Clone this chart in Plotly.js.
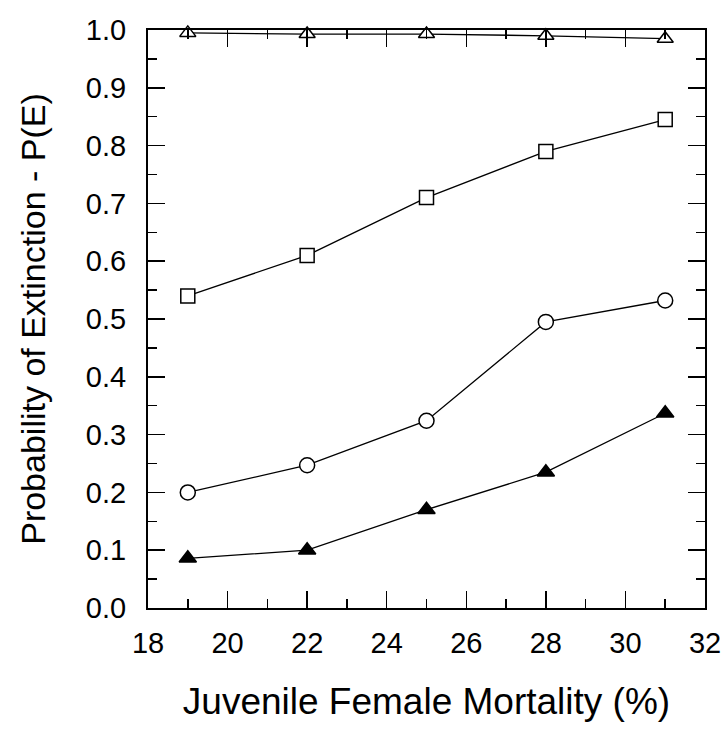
<!DOCTYPE html>
<html>
<head>
<meta charset="utf-8">
<script src="https://cdn.plot.ly/plotly-3.0.1.min.js"></script>
<style>
  html, body { margin: 0; padding: 0; background: #ffffff; }
  #chart { width: 726px; height: 740px; }
</style>
</head>
<body>
<div id="chart"></div>
<script>
// Juvenile female mortality (%)
var mortality = [19, 22, 25, 28, 31];
// Probability of extinction P(E) for each series
var peOpenTriangle = [0.995, 0.993, 0.993, 0.99, 0.985];
var peSquare = [0.54, 0.61, 0.71, 0.79, 0.845];
var peCircle = [0.20, 0.247, 0.324, 0.495, 0.532];
var peFilledTriangle = [0.086, 0.10, 0.17, 0.235, 0.337];

var xTickVals = [18, 20, 22, 24, 26, 28, 30, 32];
var yTickVals = [0.0, 0.1, 0.2, 0.3, 0.4, 0.5, 0.6, 0.7, 0.8, 0.9, 1.0];

function series(y, symbol, fill, size) {
  return {
    x: mortality, y: y, type: 'scatter', mode: 'lines+markers',
    cliponaxis: false,
    line: { color: '#000000', width: 1.3 },
    marker: { symbol: symbol, size: size, color: fill, line: { color: '#000000', width: 1.5 } },
    showlegend: false, hoverinfo: 'skip'
  };
}

var data = [
  series(peOpenTriangle, 'triangle-up', '#ffffff', 14),
  series(peSquare, 'square', '#ffffff', 14),
  series(peCircle, 'circle', '#ffffff', 15),
  series(peFilledTriangle, 'triangle-up', '#000000', 15)
];

var tickFont = { family: 'Liberation Sans, Arial, sans-serif', size: 29, color: '#000000' };
var yTitleFont = { family: 'Liberation Sans, Arial, sans-serif', size: 34, color: '#000000' };
var xTitleFont = { family: 'Liberation Sans, Arial, sans-serif', size: 37, color: '#000000' };

var layout = {
  width: 726, height: 740,
  paper_bgcolor: '#ffffff', plot_bgcolor: '#ffffff',
  margin: { l: 148, r: 21, t: 30, b: 132 },
  showlegend: false,
  xaxis: {
    range: [18, 32], tickvals: xTickVals, ticktext: xTickVals.map(String),
    ticks: 'inside', ticklen: 17, tickwidth: 1.5, tickcolor: '#000000',
    minor: { dtick: 1, ticks: 'inside', ticklen: 9, tickwidth: 1.5, tickcolor: '#000000' },
    showline: true, linecolor: '#000000', linewidth: 2, mirror: 'ticks',
    showgrid: false, zeroline: false,
    tickfont: tickFont, ticklabelstandoff: 8, ticklabeloverflow: 'allow',
    title: { text: 'Juvenile Female Mortality (%)', font: xTitleFont, standoff: 30 },
    automargin: false
  },
  yaxis: {
    range: [0, 1], tickvals: yTickVals, ticktext: yTickVals.map(function (v) { return v.toFixed(1); }),
    ticks: 'inside', ticklen: 17, tickwidth: 1.5, tickcolor: '#000000',
    minor: { dtick: 0.05, ticks: 'inside', ticklen: 9, tickwidth: 1.5, tickcolor: '#000000' },
    showline: true, linecolor: '#000000', linewidth: 2, mirror: 'ticks',
    showgrid: false, zeroline: false,
    tickfont: tickFont, ticklabelstandoff: 14, ticklabeloverflow: 'allow',
    title: { text: 'Probability of Extinction - P(E)', font: yTitleFont, standoff: 30 },
    automargin: false
  }
};

Plotly.newPlot('chart', data, layout, { displayModeBar: false, staticPlot: true });
</script>
</body>
</html>
